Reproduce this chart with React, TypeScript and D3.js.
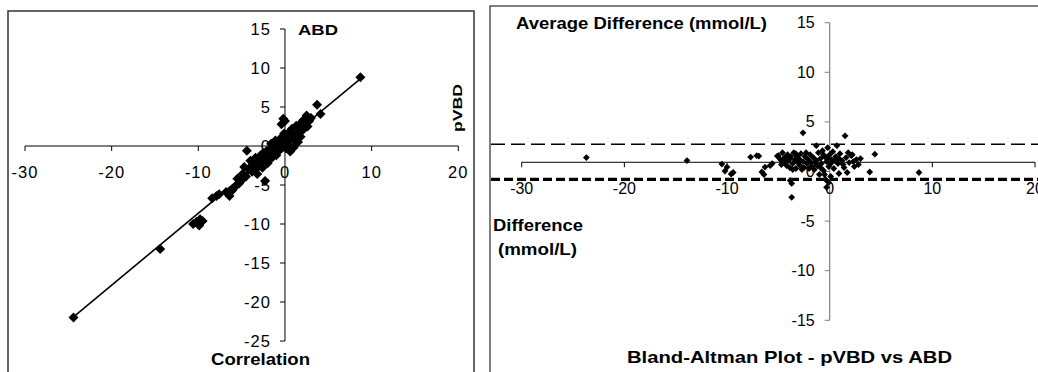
import * as d3 from 'd3'

// Correlation panel: ABD (x) vs pVBD (y)
const corrPoints: [number, number][] = [
  [-24.4, -22.0], [-14.4, -13.2], [-10.6, -10.0], [-10.2, -9.7], [-9.8, -9.4], [-9.9, -10.2],
  [-9.5, -9.6], [-8.4, -6.7], [-7.9, -6.4], [-7.6, -6.2], [-6.4, -6.4], [-6.1, -5.7],
  [-5.8, -5.3], [-5.3, -4.8], [-5.5, -4.2], [-4.9, -3.6], [-4.7, -2.7], [-4.4, -0.6],
  [-4.2, -3.0], [-4.0, -1.9], [-3.8, -3.3], [-3.6, -2.4], [-3.4, -1.5], [-3.2, -3.6],
  [-3.0, -2.1], [-2.8, -1.2], [-2.6, -2.8], [-2.4, -1.6], [-2.3, -4.5], [-2.1, -0.6],
  [-2.0, -2.2], [-1.8, -1.0], [-1.6, 0.3], [-1.5, -1.5], [-1.3, -0.4], [-1.1, 0.7],
  [-1.0, -1.2], [-0.9, 0.1], [-0.7, -0.6], [-0.5, 1.0], [-0.4, 2.8], [-0.3, 0.2],
  [-0.2, 3.5], [-0.1, 1.6], [0.0, 3.2], [0.1, -0.3], [0.3, 0.9], [0.5, 1.8],
  [0.6, -0.7], [0.8, 2.2], [1.0, -0.2], [1.1, 1.2], [1.3, 2.6], [1.5, 0.5],
  [1.7, 1.9], [1.9, 3.0], [2.1, 3.3], [2.3, 2.4], [2.5, 3.9], [2.8, 3.2],
  [3.7, 5.3], [4.1, 4.1], [8.7, 8.8],
  [-6.8, -5.9], [-5.0, -4.4], [-4.5, -3.9], [-3.9, -2.6], [-3.5, -3.0], [-3.1, -2.7],
  [-2.7, -2.0], [-2.5, -0.9], [-2.2, -1.3], [-1.9, -1.8], [-1.7, -0.5], [-1.4, -0.9],
  [-1.2, 0.0], [-0.8, -0.2], [-0.6, 0.5], [-0.4, -0.3], [-0.2, 0.8], [0.0, 0.4],
  [0.2, 1.3], [0.4, 0.2], [0.7, 1.0], [0.9, 1.6], [1.2, 0.6], [1.4, 1.5],
  [1.6, 2.2], [1.8, 1.2], [2.0, 2.0], [2.4, 3.0], [2.6, 2.5], [3.0, 3.6],
]
// trend line (least squares fit)
const fitRange = [-24.4, 8.9]
const fitSlope = 0.922
const fitIntercept = 0.6

// Bland-Altman panel: average (x) vs difference (y)
const baPoints: [number, number][] = [
  [-23.7, 1.4], [-13.9, 1.1], [-10.5, 0.75], [-10.0, 0.45], [-10.2, 0.05], [-9.6, -0.25], [-9.4, -0.1],
  [-7.7, 1.45], [-7.1, 1.6], [-6.9, 1.55], [-6.6, -0.05], [-6.4, -0.3], [-6.3, 0.45], [-5.8, 0.6],
  [-5.6, 0.8], [-5.1, 1.55], [-5.0, 1.6], [-4.8, 1.2], [-4.6, 1.9], [-4.5, 0.9], [-4.4, 1.4],
  [-4.2, 0.6], [-4.1, 1.7], [-4.0, 1.1], [-3.9, 0.4], [-3.85, -0.9], [-3.8, 1.5], [-3.7, -1.2],
  [-3.7, -2.6], [-3.6, 0.8], [-3.5, 1.9], [-3.4, 1.2], [-3.3, 0.3], [-3.2, 1.6], [-3.1, 0.9],
  [-3.0, 1.3], [-2.9, 0.6], [-2.8, 1.8], [-2.6, 3.9], [-2.6, 1.0], [-2.5, 0.4], [-2.4, 1.5],
  [-2.2, 0.8], [-2.1, 1.2], [-2.0, 0.3], [-1.9, 1.7], [-1.8, 0.9], [-1.6, 1.4], [-1.5, 0.2],
  [-1.3, 2.6], [-1.3, 1.1], [-1.2, 0.6], [-1.1, 1.9], [-1.0, -0.3], [-0.9, 1.3], [-0.8, 0.8],
  [-0.7, 2.1], [-0.6, 0.1], [-0.5, 1.5], [-0.4, -0.8], [-0.3, -1.6], [-0.3, 1.0], [-0.2, 2.4],
  [-0.1, 0.5], [0.0, 1.7], [0.1, -0.5], [0.2, 1.2], [0.3, 2.0], [0.4, 0.3], [0.6, 1.5],
  [0.7, 2.6], [0.8, 0.8], [0.9, -0.2], [1.0, 1.8], [1.2, 1.1], [1.4, 0.4], [1.5, 3.6],
  [1.6, 1.4], [1.7, -0.1], [1.9, 0.9], [2.1, 1.6], [2.2, 1.7], [2.4, 0.5], [2.6, 1.2],
  [2.8, 0.7], [3.0, 1.3], [3.9, -0.05], [4.4, 1.75], [8.7, -0.1],
  [-4.7, 0.7], [-4.3, 1.0], [-3.9, 1.3], [-3.6, 0.2], [-3.3, 1.8], [-2.9, 1.1], [-2.7, 0.2],
  [-2.3, 1.9], [-1.7, 0.5], [-1.4, 0.9], [-0.9, 0.4], [-0.6, 1.7], [-0.2, 1.3], [0.1, 0.8],
  [0.5, 1.1], [0.9, 1.3], [1.3, 0.7], [1.8, 1.9], [2.3, 1.0], [-0.5, -0.3], [-0.1, -1.1],
]
const baMean = 0.93
const baUpper = 2.74
const baLower = -0.8

const xTicks = [-30, -20, -10, 0, 10, 20]
const corrYTicks = [-25, -20, -15, -10, -5, 0, 5, 10, 15]
const baYTicks = [-15, -10, -5, 0, 5, 10, 15]

const FONT = 'Arial, "Liberation Sans", sans-serif'

const diamond = (r: number) => `M0,${-r}L${r},0L0,${r}L${-r},0Z`

function CorrelationPanel() {
  const x = d3.scaleLinear().domain([-30, 20]).range([25, 458.3])
  const y = d3.scaleLinear().domain([-25, 15]).range([341, 29])
  const x0 = x(0)
  const y0 = y(0)
  const line = d3.line<number>().x(v => x(v)).y(v => y(fitSlope * v + fitIntercept))
  return (
    <g>
      <rect x={8} y={11} width={466} height={380} fill="#fff" stroke="#333" strokeWidth={1.5} />
      {/* axes */}
      <line x1={x(-30)} x2={x(20)} y1={y0} y2={y0} stroke="#000" />
      <line x1={x0} x2={x0} y1={y(15)} y2={y(-25)} stroke="#000" />
      {xTicks.map(t => (
        <g key={'xt' + t}>
          <line x1={x(t)} x2={x(t)} y1={y0} y2={y0 + 5} stroke="#000" />
          <text x={x(t)} y={y0 + 32} textAnchor="middle" fontSize={16.5} letterSpacing={1}>{t}</text>
        </g>
      ))}
      {corrYTicks.map(t => (
        <g key={'yt' + t}>
          <line x1={x0 - 5} x2={x0} y1={y(t)} y2={y(t)} stroke="#000" />
          <text x={x0 - 14} y={y(t) + 5.5} textAnchor="end" fontSize={16.5} letterSpacing={1}>{t}</text>
        </g>
      ))}
      {/* markers */}
      {corrPoints.map((p, i) => (
        <path key={i} d={diamond(5)} transform={`translate(${x(p[0])},${y(p[1])})`} fill="#000" />
      ))}
      <path d={line(fitRange) ?? ''} fill="none" stroke="#000" strokeWidth={1.6} />
      {/* titles */}
      <text x={298} y={35} fontSize={14} fontWeight="bold" textLength={40} lengthAdjust="spacingAndGlyphs">ABD</text>
      <text transform="translate(462,132) rotate(-90)" fontSize={13} fontWeight="bold" textLength={48} lengthAdjust="spacingAndGlyphs">pVBD</text>
      <text x={211} y={365} fontSize={16} fontWeight="bold" textLength={99} lengthAdjust="spacingAndGlyphs">Correlation</text>
    </g>
  )
}

function BlandAltmanPanel() {
  const x = d3.scaleLinear().domain([-30, 20]).range([521.7, 1035])
  const y = d3.scaleLinear().domain([-15, 15]).range([320.3, 22.7])
  const x0 = x(0)
  const yAxis = y(baMean)
  return (
    <g>
      <rect x={490} y={6} width={560} height={390} fill="#fff" stroke="#000" strokeWidth={1} />
      {/* limits of agreement */}
      <line x1={491} x2={1038} y1={y(baUpper)} y2={y(baUpper)} stroke="#000" strokeWidth={1.6} strokeDasharray="14 6" />
      <line x1={491} x2={1038} y1={y(baLower)} y2={y(baLower)} stroke="#000" strokeWidth={3.2} strokeDasharray="9 4" />
      {/* axes */}
      <line x1={x(-30)} x2={x(20)} y1={yAxis} y2={yAxis} stroke="#000" />
      <line x1={x0} x2={x0} y1={y(15)} y2={y(-15)} stroke="#808080" strokeWidth={1.2} />
      {xTicks.map(t => (
        <g key={'xt' + t}>
          <line x1={x(t)} x2={x(t)} y1={yAxis} y2={yAxis + 5} stroke="#000" />
          <text x={x(t)} y={193.5} textAnchor="middle" fontSize={16}>{t}</text>
        </g>
      ))}
      {baYTicks.map(t => (
        <g key={'yt' + t}>
          <line x1={x0 - 5} x2={x0} y1={y(t)} y2={y(t)} stroke="#808080" />
          <text x={x0 - 15} y={y(t) + 5.5} textAnchor="end" fontSize={16}>{t}</text>
        </g>
      ))}
      {baPoints.map((p, i) => (
        <path key={i} d={diamond(3.4)} transform={`translate(${x(p[0])},${y(p[1])})`} fill="#000" />
      ))}
      <text x={516} y={28.5} fontSize={16.5} fontWeight="bold" textLength={251} lengthAdjust="spacingAndGlyphs">Average Difference (mmol/L)</text>
      <text x={493} y={230.5} fontSize={16} fontWeight="bold" textLength={90} lengthAdjust="spacingAndGlyphs">Difference</text>
      <text x={498} y={255} fontSize={16} fontWeight="bold" textLength={79} lengthAdjust="spacingAndGlyphs">(mmol/L)</text>
      <text x={627} y={362.5} fontSize={17} fontWeight="bold" textLength={325} lengthAdjust="spacingAndGlyphs">Bland-Altman Plot - pVBD vs ABD</text>
    </g>
  )
}

export default function App() {
  return (
    <svg
      width={1038}
      height={372}
      style={{ position: 'absolute', left: 0, top: 0, background: '#fff' }}
      fontFamily={FONT}
    >
      <CorrelationPanel />
      <BlandAltmanPanel />
    </svg>
  )
}
